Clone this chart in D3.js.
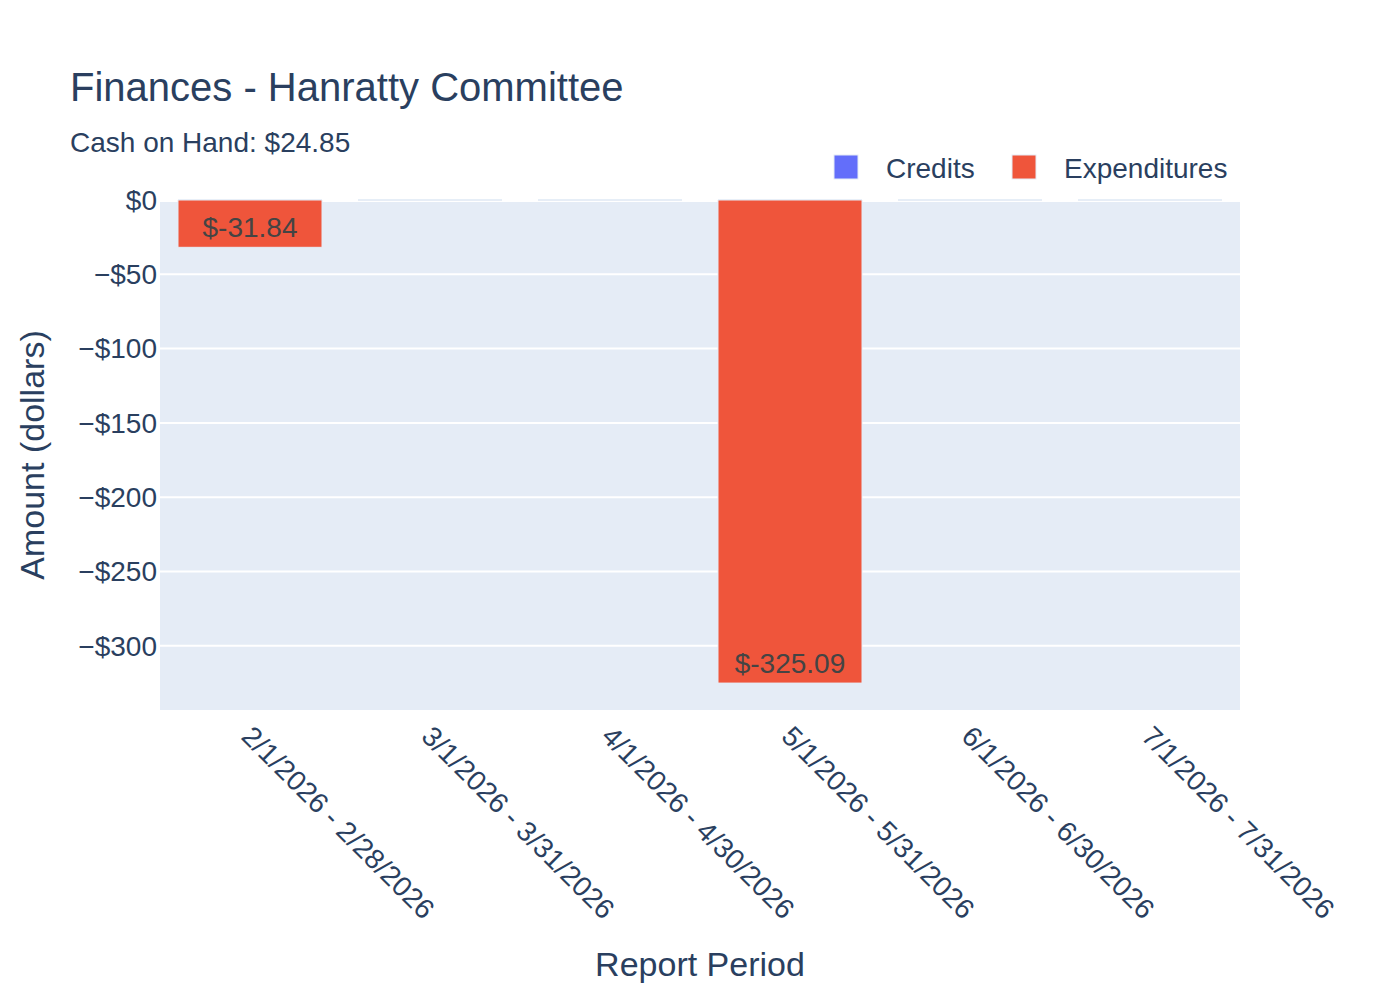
<!DOCTYPE html>
<html>
<head>
<meta charset="utf-8">
<script src="https://cdn.jsdelivr.net/npm/d3@7"></script>
<style>
  body { margin: 0; background: #fff; }
  svg text { font-family: "Liberation Sans", Arial, sans-serif; fill: #2a3f5f; }
</style>
</head>
<body>
<div id="chart"></div>
<script>
// Data
const periods = [
  "2/1/2026 - 2/28/2026",
  "3/1/2026 - 3/31/2026",
  "4/1/2026 - 4/30/2026",
  "5/1/2026 - 5/31/2026",
  "6/1/2026 - 6/30/2026",
  "7/1/2026 - 7/31/2026"
];
const credits = [0, 0, 0, 0, 0, 0];
const expenditures = [-31.84, 0, 0, -325.09, 0, 0];
const yTicks = [0, -50, -100, -150, -200, -250, -300];
const seriesNames = ["Credits", "Expenditures"];
const seriesColors = ["#636efa", "#EF553B"];

const W = 1400, H = 1000;
const plot = {left: 160, right: 1240, top: 200, bottom: 710};

const svg = d3.select("#chart")
  .append("svg")
  .attr("width", W)
  .attr("height", H);

// Scales
const x = d3.scaleBand()
  .domain(periods)
  .range([plot.left, plot.right])
  .paddingInner(0.2)
  .paddingOuter(0.1);

const y = d3.scaleLinear()
  .domain([-343.2, 0])
  .range([plot.bottom, plot.top]);

// Plot background
svg.append("rect")
  .attr("x", plot.left)
  .attr("y", plot.top)
  .attr("width", plot.right - plot.left)
  .attr("height", plot.bottom - plot.top)
  .attr("fill", "#E5ECF6");

// Grid lines
svg.append("g")
  .selectAll("line")
  .data(yTicks.filter(d => d !== 0))
  .join("line")
  .attr("x1", plot.left)
  .attr("x2", plot.right)
  .attr("y1", d => y(d))
  .attr("y2", d => y(d))
  .attr("stroke", "#fff")
  .attr("stroke-width", 2);

// Zero line
svg.append("line")
  .attr("x1", plot.left)
  .attr("x2", plot.right)
  .attr("y1", y(0))
  .attr("y2", y(0))
  .attr("stroke", "#fff")
  .attr("stroke-width", 4);

// Y axis labels
const fmtY = v => v < 0 ? "\u2212$" + (-v) : "$" + v;
svg.append("g")
  .selectAll("text")
  .data(yTicks)
  .join("text")
  .attr("x", 157)
  .attr("y", d => y(d))
  .attr("dy", "0.35em")
  .attr("text-anchor", "end")
  .style("font-size", "28px")
  .text(fmtY);

// X axis labels (rotated)
svg.append("g")
  .selectAll("text")
  .data(periods)
  .join("text")
  .attr("transform", d => `translate(${x(d) + x.bandwidth() / 2 + 14},714) rotate(45)`)
  .attr("x", 0)
  .attr("y", 34)
  .attr("text-anchor", "start")
  .style("font-size", "28px")
  .text(d => d);

// Bars (paths so zero-height bars still show their outline)
const barPath = (p, v) => {
  const x0 = x(p), x1 = x(p) + x.bandwidth();
  const y0 = y(0), y1 = y(v);
  return `M${x0},${y0}H${x1}V${y1}H${x0}Z`;
};

[credits, expenditures].forEach((vals, i) => {
  svg.append("g")
    .selectAll("path")
    .data(periods.map((p, j) => ({p, v: vals[j]})))
    .join("path")
    .attr("d", d => barPath(d.p, d.v))
    .attr("fill", seriesColors[i])
    .attr("stroke", "#E5ECF6")
    .attr("stroke-width", 1);
});

// Bar labels (inside, at the end of the bar)
svg.append("g")
  .selectAll("text")
  .data(periods.map((p, j) => ({p, v: expenditures[j]})).filter(d => d.v !== 0))
  .join("text")
  .attr("x", d => x(d.p) + x.bandwidth() / 2)
  .attr("y", d => y(d.v) - 10)
  .attr("text-anchor", "middle")
  .style("font-size", "28px")
  .style("fill", "rgb(68,68,68)")
  .text(d => "$" + d.v.toFixed(2));

// Titles
svg.append("text")
  .attr("x", 70)
  .attr("y", 101)
  .style("font-size", "40px")
  .text("Finances - Hanratty Committee");

svg.append("text")
  .attr("x", 70)
  .attr("y", 152)
  .style("font-size", "28px")
  .text("Cash on Hand: $24.85");

svg.append("text")
  .attr("x", (plot.left + plot.right) / 2)
  .attr("y", 976)
  .attr("text-anchor", "middle")
  .style("font-size", "34px")
  .text("Report Period");

svg.append("text")
  .attr("transform", `translate(44,${(plot.top + plot.bottom) / 2}) rotate(-90)`)
  .attr("text-anchor", "middle")
  .style("font-size", "34px")
  .text("Amount (dollars)");

// Legend
const legendX = [834, 1012];
const legend = svg.append("g")
  .selectAll("g")
  .data(seriesNames)
  .join("g")
  .attr("transform", (d, i) => `translate(${legendX[i]},155)`);

legend.append("rect")
  .attr("width", 24)
  .attr("height", 24)
  .attr("fill", (d, i) => seriesColors[i])
  .attr("stroke", "#E5ECF6")
  .attr("stroke-width", 1);

legend.append("text")
  .attr("x", 52)
  .attr("y", 23)
  .style("font-size", "28px")
  .text(d => d);
</script>
</body>
</html>
